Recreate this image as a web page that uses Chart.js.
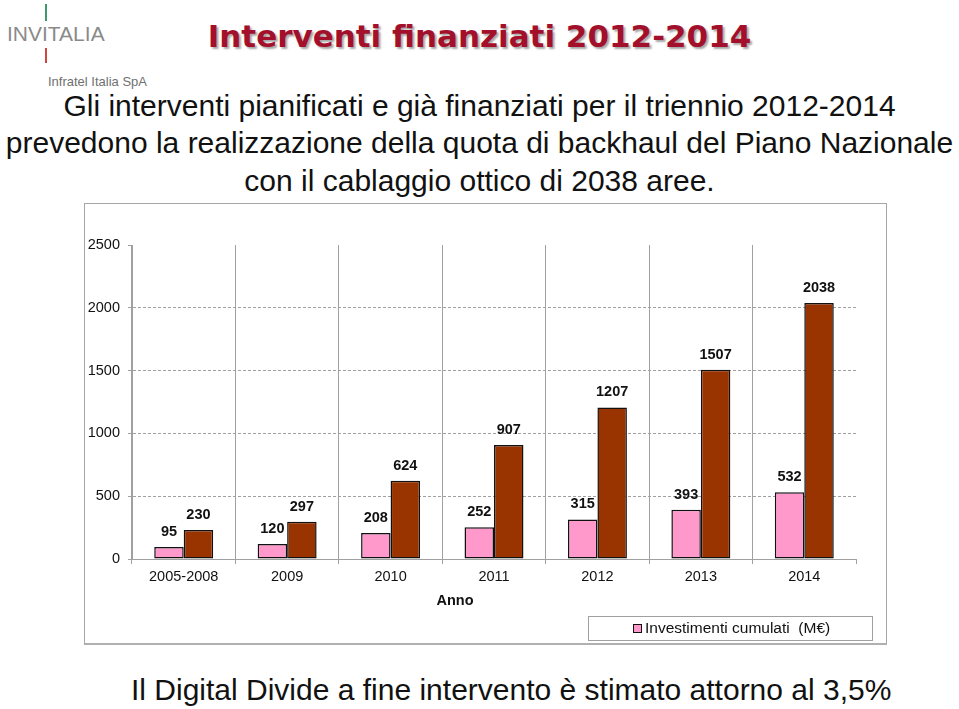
<!DOCTYPE html>
<html>
<head>
<meta charset="utf-8">
<script src="https://cdn.jsdelivr.net/npm/chart.js@4/dist/chart.umd.min.js"></script>
<style>
  html, body { margin: 0; padding: 0; background: #fff; }
  body { width: 959px; height: 709px; position: relative; overflow: hidden; font-family: "Liberation Sans", Arial, sans-serif; }
  .abs { position: absolute; }
  #logo { left: 7px; top: 22px; font-size: 21px; line-height: 24px; color: #8a8a8a; }
  #gline { left: 45px; top: 4px; width: 2px; height: 17px; background: #3d9a6c; }
  #rline { left: 45px; top: 48px; width: 2px; height: 15px; background: #d2473c; }
  #infratel { left: 48px; top: 74px; font-size: 13px; line-height: 15px; color: #707070; }
  #title { left: 0; width: 959px; text-align: center; top: 18px; font-family: "DejaVu Sans", Verdana, sans-serif; font-weight: bold; font-size: 31px; line-height: 36px; color: #a3102c; text-shadow: 2px 2px 2px rgba(0,0,0,0.35); }
  .sub { left: 0; width: 959px; text-align: center; font-size: 30px; line-height: 37.5px; color: #111; white-space: nowrap; }
  #bottom { left: 131px; top: 671px; font-size: 30px; line-height: 37.5px; color: #111; white-space: nowrap; }
  #frame { left: 84px; top: 203px; width: 803px; height: 442px; box-sizing: border-box; border: 1px solid #a6a6a6; border-bottom: 2px solid #b0b0b0; }
  #frame canvas { display: block; }
</style>
</head>
<body>
<div id="gline" class="abs"></div>
<div id="logo" class="abs">INVITALIA</div>
<div id="rline" class="abs"></div>
<div id="infratel" class="abs">Infratel Italia SpA</div>
<div id="title" class="abs">Interventi finanziati 2012-2014</div>
<div class="abs sub" style="top:87px">Gli interventi pianificati e già finanziati per il triennio 2012-2014</div>
<div class="abs sub" style="top:124px">prevedono la realizzazione della quota di backhaul del Piano Nazionale</div>
<div class="abs sub" style="top:162px">con il cablaggio ottico di 2038 aree.</div>
<div id="frame" class="abs"><canvas id="c" width="801" height="439"></canvas></div>
<div id="bottom" class="abs">Il Digital Divide a fine intervento è stimato attorno al 3,5%</div>

<script>
// ---- data ----
const categories = ['2005-2008', '2009', '2010', '2011', '2012', '2013', '2014'];
const investimenti = [95, 120, 208, 252, 315, 393, 532];
const aree = [230, 297, 624, 907, 1207, 1507, 2038];
const seriesLabels = ['Investimenti cumulati  (M€)', 'Aree'];
const legendSeries = [0];
const yTicks = [0, 500, 1000, 1500, 2000, 2500];
const xAxisTitle = 'Anno';

const PINK = '#ff99cc';
const BROWN = '#993300';
const GRAY = '#a0a0a0';
const FONT = '"Liberation Sans", Arial, sans-serif';

const labelsPlugin = {
  id: 'valueLabels',
  afterDatasetsDraw(chart) {
    const ctx = chart.ctx;
    ctx.save();
    ctx.font = 'bold 14.5px ' + FONT;
    ctx.fillStyle = '#111';
    ctx.textAlign = 'center';
    ctx.textBaseline = 'middle';
    chart.data.datasets.forEach((ds, di) => {
      const meta = chart.getDatasetMeta(di);
      meta.data.forEach((el, i) => {
        ctx.fillText(String(ds.data[i]), el.x, el.y - 15);
      });
    });
    ctx.restore();
  }
};

const extrasPlugin = {
  id: 'extras',
  afterDraw(chart) {
    const ctx = chart.ctx;
    const area = chart.chartArea;
    ctx.save();
    ctx.font = 'bold 14.5px ' + FONT;
    ctx.fillStyle = '#111';
    ctx.textAlign = 'center';
    ctx.textBaseline = 'middle';
    ctx.fillText(xAxisTitle, area.left + 323, area.bottom + 42);
    const bx = 503.5, by = 412.5, bw = 284, bh = 24;
    ctx.strokeStyle = GRAY;
    ctx.lineWidth = 1;
    ctx.strokeRect(bx, by, bw, bh);
    legendSeries.forEach(si => {
      const ds = chart.data.datasets[si];
      ctx.fillStyle = ds.backgroundColor;
      ctx.fillRect(548, 420, 9, 9);
      ctx.strokeStyle = '#111';
      ctx.strokeRect(548.5, 420.5, 8, 8);
      ctx.fillStyle = '#111';
      ctx.font = '15.5px ' + FONT;
      ctx.textAlign = 'left';
      ctx.textBaseline = 'middle';
      ctx.fillText(ds.label, 560, 425);
    });
    ctx.restore();
  }
};

new Chart(document.getElementById('c'), {
  type: 'bar',
  data: {
    labels: categories,
    datasets: [
      { label: seriesLabels[0], data: investimenti, backgroundColor: PINK, borderColor: '#111', borderWidth: 1.5, borderSkipped: false },
      { label: seriesLabels[1], data: aree, backgroundColor: BROWN, borderColor: '#111', borderWidth: 1.5, borderSkipped: false }
    ]
  },
  options: {
    responsive: false,
    devicePixelRatio: 1,
    animation: false,
    layout: { padding: { left: 0, right: 30, top: 41, bottom: 0 } },
    datasets: { bar: { categoryPercentage: 0.57, barPercentage: 1.0 } },
    plugins: { legend: { display: false }, tooltip: { enabled: false }, title: { display: false } },
    scales: {
      x: {
        afterFit(s) { s.height = 84; },
        grid: {
          offset: true,
          color: c => (c.index === undefined ? 'rgba(0,0,0,0)' : GRAY),
          tickColor: GRAY,
          lineWidth: 1,
          tickLength: 5
        },
        border: { display: true, color: GRAY, width: 1 },
        ticks: { font: { family: FONT, size: 14.5 }, color: '#111', padding: 4, maxRotation: 0 }
      },
      y: {
        min: 0,
        max: 2500,
        afterFit(s) { s.width = 47; },
        afterBuildTicks(s) { s.ticks = yTicks.map(v => ({ value: v })); },
        grid: {
          color: c => (c.tick && (c.tick.value === 0 || c.tick.value === 2500) ? 'rgba(0,0,0,0)' : GRAY),
          tickColor: GRAY,
          lineWidth: 1,
          tickLength: 4
        },
        border: { display: true, color: GRAY, width: 1, dash: [3, 2] },
        ticks: { font: { family: FONT, size: 14.5 }, color: '#111', padding: 8, callback: v => String(v) }
      }
    }
  },
  plugins: [labelsPlugin, extrasPlugin]
});
</script>
</body>
</html>
